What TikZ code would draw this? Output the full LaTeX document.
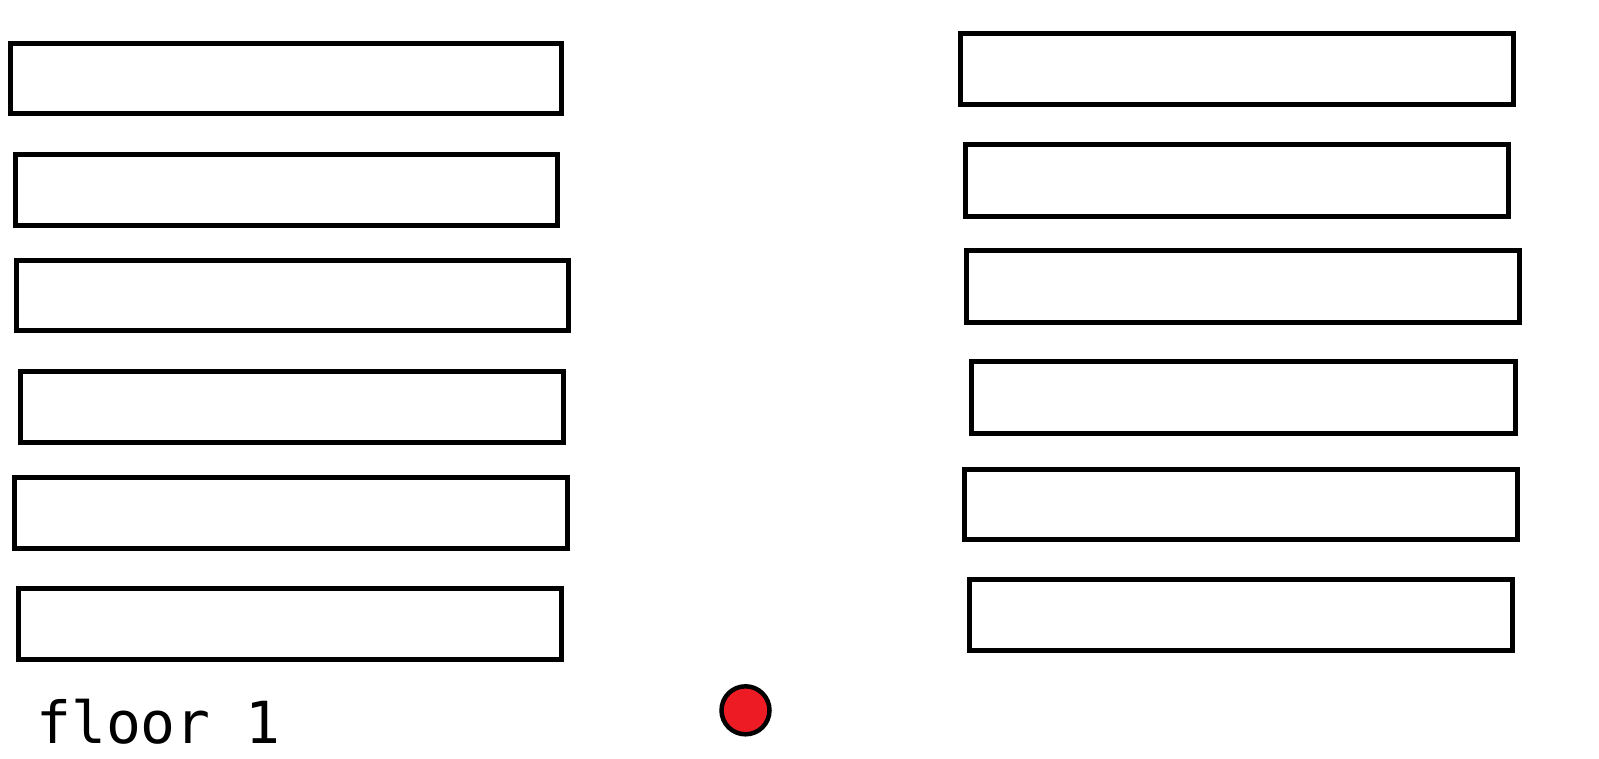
\documentclass[tikz,border=0pt]{standalone}
\usepackage{fontspec}
\newfontfamily\labelfont{DejaVu Sans Mono}
\definecolor{dotred}{HTML}{ED1C24}
\begin{document}
\begin{tikzpicture}[x=1pt,y=-1pt,
  shelf/.style={draw=black,line width=5pt,fill=white},
  marker/.style={draw=black,line width=4.5pt,fill=dotred},
  floorlabel/.style={font=\labelfont\fontsize{58}{60}\selectfont,inner sep=0pt,anchor=base west}]
\useasboundingbox[fill=white] (0,0) rectangle (1599,758);
% left column
\draw[shelf] (10.2,43.9) rectangle (561.9,113.2);
\draw[shelf] (15.3,154.0) rectangle (557.8,225.4);
\draw[shelf] (16.3,260.0) rectangle (568.0,330.4);
\draw[shelf] (20.4,371.2) rectangle (563.9,442.6);
\draw[shelf] (14.3,477.3) rectangle (567.0,548.7);
\draw[shelf] (18.4,588.4) rectangle (561.9,659.8);
% right column
\draw[shelf] (960.6,33.7) rectangle (1513.4,104.0);
\draw[shelf] (965.7,144.8) rectangle (1508.3,216.2);
\draw[shelf] (966.7,250.9) rectangle (1519.5,322.3);
\draw[shelf] (971.9,361.0) rectangle (1515.4,433.4);
\draw[shelf] (964.7,469.1) rectangle (1517.4,539.5);
\draw[shelf] (969.8,579.2) rectangle (1512.3,650.6);
% marker
\draw[marker] (745.5,710.3) circle (24);
% label
\node[floorlabel] (lbl) at (36,743) {floor 1};
\end{tikzpicture}
\end{document}
